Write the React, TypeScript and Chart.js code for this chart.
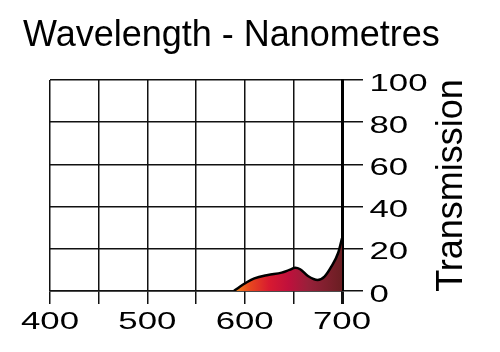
import React, { useEffect, useRef } from "react";
import { Chart, registerables } from "chart.js";

Chart.register(...registerables);

const titleText = "Wavelength - Nanometres";
const yTitleText = "Transmission";
const wavelengths = [589, 595, 601, 610, 624, 638, 646, 652, 657, 665, 675, 682, 689, 696, 700];
const transmission = [0, 2, 3.8, 6, 7.6, 8.7, 10, 11, 10.3, 7.1, 5.2, 6.8, 11.5, 18, 25];
const xMin = 400;
const xMax = 700;
const xStep = 50;
const xLabelStep = 100;
const yMin = 0;
const yMax = 100;
const yStep = 20;

const FONT = "'Liberation Sans', Arial, Helvetica, sans-serif";
const TICK_FONT_SIZE = 24.5;
const TICK_STRETCH = 1.42;

const gradientStops: [number, string][] = [
  [589, "#f28a1c"],
  [605, "#e8481e"],
  [625, "#d81a30"],
  [645, "#c0103c"],
  [665, "#98203a"],
  [700, "#6a1e22"],
];

const textPlugin = {
  id: "texts",
  afterDraw(chart: any) {
    const { ctx, chartArea, scales } = chart;
    const xs = scales.x;
    const ys = scales.y;
    ctx.save();
    ctx.fillStyle = "#000";

    // Title
    ctx.font = `36px ${FONT}`;
    ctx.textAlign = "left";
    ctx.textBaseline = "alphabetic";
    ctx.fillText(titleText, chartArea.left - 27, chartArea.top - 34);

    // Y axis title (reads upward)
    ctx.save();
    ctx.textAlign = "center";
    ctx.translate(chartArea.right + 120, (chartArea.top + chartArea.bottom) / 2);
    ctx.rotate(-Math.PI / 2);
    ctx.fillText(yTitleText, 0, 0);
    ctx.restore();

    // Tick labels (wide lettering)
    ctx.font = `${TICK_FONT_SIZE}px ${FONT}`;
    xs.ticks.forEach((t: any) => {
      if (t.value % xLabelStep !== 0) return;
      const px = xs.getPixelForValue(t.value);
      ctx.save();
      ctx.translate(px, chartArea.bottom + 38);
      ctx.scale(TICK_STRETCH, 1);
      ctx.textAlign = "center";
      ctx.fillText(String(t.value), 0, 0);
      ctx.restore();
    });
    ys.ticks.forEach((t: any) => {
      const py = ys.getPixelForValue(t.value);
      ctx.save();
      ctx.translate(chartArea.right + 27.5, py + 10.5);
      ctx.scale(TICK_STRETCH, 1);
      ctx.textAlign = "left";
      ctx.fillText(String(t.value), 0, 0);
      ctx.restore();
    });
    ctx.restore();
  },
};

export default function App() {
  const ref = useRef<HTMLCanvasElement>(null);

  useEffect(() => {
    if (!ref.current) return;
    const chart = new Chart(ref.current, {
      type: "line",
      data: {
        datasets: [
          {
            data: wavelengths.map((w, i) => ({ x: w, y: transmission[i] })),
            borderColor: "#000",
            borderWidth: 2.5,
            pointRadius: 0,
            cubicInterpolationMode: "monotone",
            fill: "origin",
            backgroundColor: (c: any) => {
              const ch = c.chart;
              const { ctx, chartArea, scales } = ch;
              if (!chartArea) return "#c0103c";
              const x0 = scales.x.getPixelForValue(gradientStops[0][0]);
              const x1 = scales.x.getPixelForValue(gradientStops[gradientStops.length - 1][0]);
              const g = ctx.createLinearGradient(x0, 0, x1, 0);
              const span = gradientStops[gradientStops.length - 1][0] - gradientStops[0][0];
              gradientStops.forEach(([w, col]) => g.addColorStop((w - gradientStops[0][0]) / span, col));
              return g;
            },
          },
        ],
      },
      options: {
        animation: false,
        responsive: false,
        devicePixelRatio: 1,
        layout: { padding: { left: 50, right: 137, top: 80, bottom: 48 } },
        plugins: {
          legend: { display: false },
          tooltip: { enabled: false },
          title: { display: false },
        },
        scales: {
          x: {
            type: "linear",
            position: "bottom",
            min: xMin,
            max: xMax,
            ticks: { stepSize: xStep, display: false },
            grid: {
              color: "#111",
              lineWidth: (c: any) => (c.tick && c.tick.value === xMax ? 3 : 1.5),
              tickLength: 13,
            },
            border: { display: true, color: "#111", width: 1.5 },
          },
          y: {
            position: "right",
            min: yMin,
            max: yMax,
            ticks: { stepSize: yStep, display: false },
            grid: { color: "#111", lineWidth: 1.5, tickLength: 21 },
            border: { display: true, color: "#000", width: 3 },
          },
        },
      },
      plugins: [textPlugin],
    });
    return () => chart.destroy();
  }, []);

  return (
    <div style={{ position: "absolute", left: 0, top: 0, width: 500, height: 352, background: "#fff" }}>
      <canvas ref={ref} width={500} height={352} />
    </div>
  );
}
